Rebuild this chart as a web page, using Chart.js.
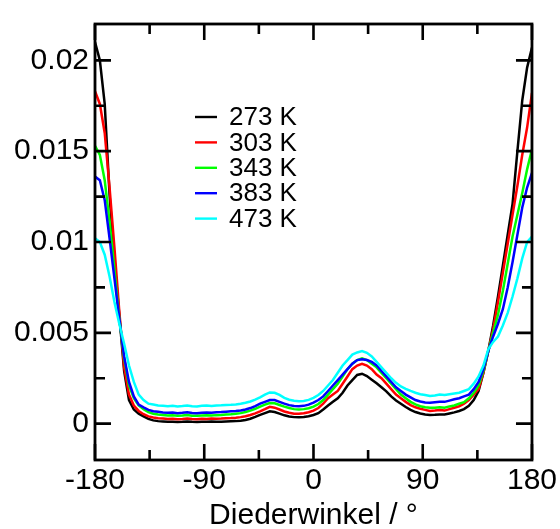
<!DOCTYPE html>
<html><head><meta charset="utf-8">
<script src="https://cdn.jsdelivr.net/npm/chart.js@4.4.1/dist/chart.umd.min.js"></script>
<style>html,body{margin:0;padding:0;background:#fff;}#wrap{width:560px;height:529px;}</style>
</head><body><div id="wrap"><canvas id="c" width="560" height="529"></canvas></div>
<script>
const angles = [-180,-176,-172,-168,-164,-160,-156,-152,-148,-144,-140,-136,-132,-128,-124,-120,-116,-112,-108,-104,-100,-96,-92,-88,-84,-80,-76,-72,-68,-64,-60,-56,-52,-48,-44,-40,-36,-32,-28,-24,-20,-16,-12,-8,-4,0,4,8,12,16,20,24,28,32,36,40,44,48,52,56,60,64,68,72,76,80,84,88,92,96,100,104,108,112,116,120,124,128,132,136,140,144,148,152,156,160,164,168,172,176,180];

const k273 = [.0210,.0200,.0176,.0126,.0090,.0060,.0029,.0013,.00078,.00055,.00040,.00026,.00018,.00014,.00012,.00010,.00011,.00009,.00010,.00012,.00010,.00009,.00011,.00010,.00012,.00010,.00011,.00012,.00013,.00014,.00016,.00020,.00027,.00037,.00048,.00058,.00068,.00064,.00055,.00046,.00040,.00036,.00035,.00037,.00041,.00048,.00058,.00078,.00100,.00120,.00140,.00170,.00210,.00240,.00268,.00275,.00262,.00242,.00222,.00200,.00178,.00150,.00128,.00110,.00092,.00076,.00064,.00056,.00050,.00048,.00049,.00051,.00050,.00056,.00062,.00070,.00080,.00098,.00130,.00180,.00280,.00400,.00540,.00700,.00870,.01040,.01210,.01500,.01780,.01960,.02070];

const k303 = [.0183,.0176,.0160,.0130,.0097,.0062,.0031,.0016,.0010,.0007,.00052,.00040,.00034,.00030,.00028,.00026,.00027,.00025,.00026,.00028,.00026,.00025,.00027,.00026,.00028,.00027,.00028,.00030,.00031,.00033,.00036,.00041,.00048,.00057,.00068,.00080,.00093,.00088,.00078,.00067,.00060,.00055,.00054,.00057,.00063,.00072,.00086,.00110,.00140,.00160,.00180,.00220,.00260,.00300,.00320,.00330,.00320,.00300,.00270,.00250,.00220,.00190,.00160,.00140,.00120,.00102,.00090,.00082,.00076,.00070,.00072,.00075,.00072,.00080,.00088,.00096,.00110,.00130,.00160,.00190,.00280,.00400,.00520,.00670,.00830,.00990,.01150,.01310,.01480,.01630,.01820];

const k343 = [.0153,.0148,.0134,.0111,.0085,.0058,.0036,.0021,.0014,.0010,.00080,.00063,.00055,.00050,.00048,.00045,.00046,.00044,.00045,.00047,.00044,.00043,.00045,.00046,.00045,.00047,.00048,.00050,.00052,.00055,.00058,.00064,.00072,.00082,.00094,.00105,.00114,.00112,.00103,.00094,.00086,.00080,.00078,.00080,.00085,.00094,.00108,.00130,.00160,.00190,.00220,.00260,.00300,.00330,.00350,.00360,.00350,.00330,.00310,.00280,.00250,.00220,.00190,.00160,.00140,.00120,.00106,.00096,.00090,.00087,.00088,.00090,.00088,.00095,.00100,.00110,.00118,.00140,.00170,.00210,.00290,.00400,.00500,.00600,.00730,.00880,.01030,.01150,.01270,.01400,.01510];

const k383 = [.0136,.0134,.0123,.0102,.0080,.0058,.0037,.0023,.0015,.00105,.00090,.00076,.00068,.00065,.00062,.00060,.00062,.00058,.00060,.00063,.00059,.00058,.00060,.00062,.00060,.00063,.00064,.00066,.00068,.00070,.00073,.00078,.00086,.00097,.00110,.00120,.00130,.00130,.00120,.00110,.00102,.00097,.00096,.00098,.00105,.00116,.00130,.00150,.00180,.00210,.00240,.00270,.00300,.00330,.00350,.00355,.00350,.00340,.00320,.00290,.00260,.00230,.00200,.00180,.00160,.00145,.00130,.00122,.00116,.00115,.00118,.00120,.00120,.00127,.00134,.00140,.00150,.00160,.00190,.00230,.00300,.00400,.00480,.00550,.00630,.00750,.00890,.01040,.01190,.01300,.01380];

const k473 = [.0102,.0100,.0093,.0081,.0067,.0055,.0044,.0032,.0023,.0016,.0013,.0011,.00105,.00100,.00098,.00096,.00099,.00095,.00097,.00100,.00096,.00095,.00098,.00100,.00097,.00100,.00101,.00103,.00104,.00106,.00110,.00115,.00122,.00132,.00145,.00160,.00172,.00170,.00158,.00142,.00132,.00126,.00123,.00125,.00131,.00142,.00158,.00180,.00210,.00240,.00280,.00320,.00350,.00380,.00392,.00400,.00390,.00370,.00340,.00310,.00280,.00250,.00225,.00205,.00192,.00180,.00170,.00162,.00158,.00152,.00155,.00160,.00158,.00162,.00166,.00170,.00180,.00190,.00220,.00260,.00320,.00410,.00450,.00480,.00540,.00610,.00700,.00800,.00910,.01000,.01030];

const seriesLabels = ['273 K','303 K','343 K','383 K','473 K'];
const seriesColors = ['#000000','#ff0000','#00ff00','#0000ff','#00ffff'];
const seriesValues = [k273,k303,k343,k383,k473];

const xMajorTicks = [-180,-90,0,90,180];
const xMinorTicks = [-135,-45,45,135];
const yMajorTicks = [0,0.005,0.01,0.015,0.02];
const yTickLabels = ['0','0.005','0.01','0.015','0.02'];
const yMinorTicks = [0.0025,0.0075,0.0125,0.0175];
const xTitle = 'Diederwinkel / °';

const FONT = 'Liberation Sans, Arial, sans-serif';

const frameTicks = {
  id:'frameTicks',
  afterDraw(chart){
    const {ctx, chartArea:a, scales:{x,y}} = chart;
    ctx.save();
    ctx.strokeStyle='#000'; ctx.lineWidth=2.6; ctx.lineCap='butt';
    ctx.beginPath();
    const seg=(x1,y1,x2,y2)=>{ctx.moveTo(x1,y1);ctx.lineTo(x2,y2);};
    xMajorTicks.forEach(v=>{const p=x.getPixelForValue(v); seg(p,a.bottom,p,a.bottom-16); seg(p,a.top,p,a.top+16);});
    xMinorTicks.forEach(v=>{const p=x.getPixelForValue(v); seg(p,a.bottom,p,a.bottom-10); seg(p,a.top,p,a.top+10);});
    yMajorTicks.forEach(v=>{const p=y.getPixelForValue(v); seg(a.left,p,a.left+16,p); seg(a.right,p,a.right-16,p);});
    yMinorTicks.forEach(v=>{const p=y.getPixelForValue(v); seg(a.left,p,a.left+10,p); seg(a.right,p,a.right-10,p);});
    ctx.stroke();
    ctx.lineWidth=2.8;
    ctx.strokeRect(a.left,a.top,a.right-a.left,a.bottom-a.top);
    // legend
    ctx.font = '26px '+FONT;
    ctx.textBaseline='middle'; ctx.textAlign='left';
    chart.data.datasets.forEach((ds,i)=>{
      const yy = 117 + i*25.4;
      ctx.strokeStyle = ds.borderColor; ctx.lineWidth=2.4;
      ctx.beginPath(); ctx.moveTo(195,yy); ctx.lineTo(217,yy); ctx.stroke();
      ctx.fillStyle='#000';
      ctx.fillText(ds.label, 229, yy+1);
    });
    ctx.restore();
  }
};

new Chart(document.getElementById('c'), {
  type:'line',
  data:{
    datasets: seriesValues.map((vals,i)=>({
      label: seriesLabels[i],
      data: angles.map((a,j)=>({x:a,y:vals[j]})),
      borderColor: seriesColors[i],
      borderWidth: 2.5,
      pointRadius: 0,
      tension: 0,
      fill: false,
      order: seriesValues.length - i
    }))
  },
  options:{
    responsive:false, animation:false, devicePixelRatio:1,
    layout:{padding:{left:0,right:27,top:16,bottom:0}},
    plugins:{legend:{display:false}, tooltip:{enabled:false}},
    scales:{
      x:{
        type:'linear', min:-180, max:180,
        afterBuildTicks(s){ s.ticks = xMajorTicks.map(v=>({value:v})); },
        afterFit(s){ s.height = 69; },
        grid:{display:false, drawTicks:false},
        border:{display:false},
        ticks:{color:'#000', font:{family:FONT, size:30}, padding:3, maxRotation:0, callback:(v)=>String(v)},
        title:{display:true, text:xTitle, color:'#000', font:{family:FONT,size:30,lineHeight:1}, padding:{top:0,bottom:-2}}
      },
      y:{
        type:'linear', min:-0.002, max:0.022,
        afterBuildTicks(s){ s.ticks = yMajorTicks.map(v=>({value:v})); },
        afterFit(s){ s.width = 95; },
        grid:{display:false, drawTicks:false},
        border:{display:false},
        ticks:{color:'#000', font:{family:FONT, size:30}, padding:6,
          callback:(v)=>{const k=yMajorTicks.findIndex(t=>Math.abs(t-v)<1e-9); return k>=0?yTickLabels[k]:'';}}
      }
    }
  },
  plugins:[frameTicks]
});
</script></body></html>
